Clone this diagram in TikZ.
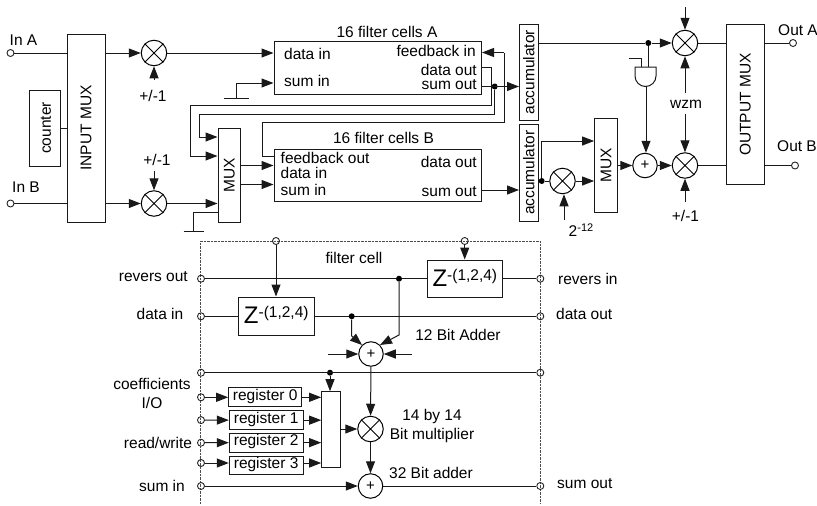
\documentclass[tikz,border=0pt]{standalone}
\usepackage{fontspec}
\setmainfont{Liberation Sans}
\usetikzlibrary{arrows.meta,calc}
\tikzset{
  wire/.style={line width=1pt,draw=black!90},
  arr/.style={wire,-{Triangle[length=12pt,width=9pt]}},
  box/.style={draw=black!90,line width=1pt,inner sep=0pt,fill=white},
  opc/.style={circle,draw=black,line width=1pt,inner sep=0pt,minimum size=24.5pt},
  mulc/.style={circle,draw=black,line width=1pt,inner sep=0pt,minimum size=25.5pt},
  term/.style={circle,draw=black!85,line width=0.9pt,inner sep=0pt,minimum size=7pt},
  dot/.style={circle,fill=black,inner sep=0pt,minimum size=6pt},
  lab/.style={inner sep=0pt,font=\fontsize{15.5}{17}\selectfont},
  rlab/.style={lab,rotate=90},
  llab/.style={lab,anchor=west},
  elab/.style={lab,anchor=east},
  zlab/.style={inner sep=0pt},
  border/.style={draw=black!70,line width=1pt,dash pattern=on 2.5pt off 1pt}
}
\newcommand{\mulnode}[2]{\node[mulc] (#1) at (#2) {};\draw[line width=1pt] (#1.45)--(#1.225) (#1.135)--(#1.315);}
\newcommand{\zt}{{\fontsize{24}{26}\selectfont Z}\raisebox{6pt}{\fontsize{15.5}{17}\selectfont -(1,2,4)}}
\begin{document}
\begin{tikzpicture}[x=1pt,y=-1pt]
\useasboundingbox (0,0) rectangle (817,506);
% top part: boxes
\node[box,minimum width=38pt,minimum height=188pt] (inmux) at (86,128) {};
\node[rlab] (inmuxt) at (86,128) {INPUT MUX};
\node[box,minimum width=30.5pt,minimum height=76pt] (counter) at (44.75,128) {};
\node[rlab] (countert) at (46,128) {counter};
\node[box,minimum width=22.5pt,minimum height=94pt] (mux1) at (229.25,175) {};
\node[rlab] (mux1t) at (229.25,175) {MUX};
\node[box,minimum width=207.5pt,minimum height=52.5pt] (cellsA) at (377.75,67.75) {};
\node[box,minimum width=207.5pt,minimum height=52.5pt] (cellsB) at (377.75,175.25) {};
\node[box,minimum width=18.5pt,minimum height=95.5pt] (acc1) at (528.75,72.25) {};
\node[rlab] (acc1t) at (528.75,72.25) {accumulator};
\node[box,minimum width=18.5pt,minimum height=96.5pt] (acc2) at (528.75,172.75) {};
\node[rlab] (acc2t) at (528.75,172.75) {accumulator};
\node[box,minimum width=22.8pt,minimum height=94pt] (mux2) at (606,165.5) {};
\node[rlab] (mux2t) at (606,165.5) {MUX};
\node[box,minimum width=37.5pt,minimum height=160pt] (outmux) at (745.25,104.5) {};
\node[rlab] (outmuxt) at (745.25,104.5) {OUTPUT MUX};
% operators
\mulnode{mIA}{154,53}
\mulnode{mIB}{154,203.5}
\mulnode{mOA}{685,43}
\mulnode{mOB}{685,165.5}
\mulnode{mScale}{562.5,181}
\node[opc] (addO) at (645,165.5) {\fontsize{15}{15}\selectfont +};
% terminals
\node[term] (tInA) at (10.5,53) {};
\node[term] (tInB) at (10.5,203.5) {};
\node[term] (tOutA) at (793,43) {};
\node[term] (tOutB) at (795,165.5) {};
% labels top
\node[llab] (lInA) at (9.5,40) {In A};
\node[llab] (lInB) at (12,187.5) {In B};
\node[llab] (lOutA) at (778,30) {Out A};
\node[llab] (lOutB) at (777,146.5) {Out B};
\node[lab] (lpm1) at (153,96) {+/-1};
\node[lab] (lpm2) at (157,160) {+/-1};
\node[lab] (lpm3) at (685.5,216) {+/-1};
\node[lab] (lwzm) at (686,104) {wzm};
\node[lab] (lpow) at (581,230) {2\raisebox{5.5pt}{\fontsize{11}{12}\selectfont -12}};
\node[lab] (ltA) at (387,32) {16 filter cells A};
\node[lab] (ltB) at (383.5,138) {16 filter cells B};
\node[llab] (a1) at (284,54) {data in};
\node[llab] (a2) at (284,81) {sum in};
\node[elab] (a3) at (476,51) {feedback in};
\node[elab] (a4) at (477,70) {data out};
\node[elab] (a5) at (477,85) {sum out};
\node[llab] (b1) at (280.5,157.5) {feedback out};
\node[llab] (b2) at (280.5,173) {data in};
\node[llab] (b3) at (280.5,190) {sum in};
\node[elab] (b4) at (477,162) {data out};
\node[elab] (b5) at (477,192) {sum out};
% coordinates
\coordinate (pmA) at (154,80);
\coordinate (pmB) at (154,171);
\coordinate (pmC) at (685,202);
\coordinate (topIn) at (685,7);
\coordinate (powIn) at (564,220);
\coordinate (wzmUp) at (685,93);
\coordinate (wzmDn) at (685,114);
\coordinate (gnd1) at (236.5,98);
\coordinate (gnd2) at (193.5,231.5);
\coordinate (dotAc) at (494.7,86.5);
\coordinate (gL) at (635,67);
\coordinate (gR) at (656,67);
% wires left
\draw[wire] (tInA)--(inmux.west |- tInA);
\draw[wire] (tInB)--(inmux.west |- tInB);
\draw[wire] (counter.east)--(inmux.west);
\draw[arr] (inmux.east |- mIA)--(mIA);
\draw[arr] (inmux.east |- mIB)--(mIB);
\draw[arr] (pmA)--(mIA);
\draw[arr] (pmB)--(mIB);
\draw[arr] (mIA)--(cellsA.west |- mIA);
\draw[arr] (mIB)--(mux1.west |- mIB);
% grounds
\draw[arr] (gnd1)--(236.5,83)--(cellsA.west |- 0,83);
\draw[wire] ($(gnd1)+(-12.5,0)$)--($(gnd1)+(12.5,0)$);
\draw[wire] (mux1.west |- 0,212)--(193.5,212)--(gnd2);
\draw[wire] ($(gnd2)+(-10,0)$)--($(gnd2)+(10,0)$);
% mux outputs
\draw[arr] (mux1.east |- 0,165.5)--(cellsB.west |- 0,165.5);
\draw[arr] (mux1.east |- 0,184.5)--(cellsB.west |- 0,184.5);
% feedbacks
\node[dot] (dA) at (dotAc) {};
\draw[arr] (cellsA.east |- dA)--(acc1.west |- dA);
\draw[arr] (dA)--(494.7,114.5)--(199.5,114.5)--(199.5,137)--(mux1.west |- 0,137);
\draw[arr] (cellsA.east |- 0,67.7)--(491,67.7)--(491,105.5)--(190,105.5)--(190,156)--(mux1.west |- 0,156);
\draw[wire] (cellsB.west |- 0,156)--(262.5,156)--(262.5,122.5)--(504,122.5)--(504,52.5);
\draw[arr] (504,52.5)--(cellsA.east |- 0,52.5);
\draw[arr] (cellsB.east |- 0,190)--(acc2.west |- 0,190);
% right side
\node[dot] (dOA) at (648.3,43) {};
\draw[wire] (acc1.east |- dOA)--(dOA);
\draw[arr] (dOA)--(mOA);
\draw[arr] (topIn)--(mOA);
\draw[arr] (wzmUp)--(mOA);
\draw[arr] (wzmDn)--(mOB);
\draw[arr] (pmC)--(mOB);
\draw[wire] (mOA)--(outmux.west |- mOA);
\draw[wire] (mOB)--(outmux.west |- mOB);
\draw[wire] (outmux.east |- tOutA)--(tOutA);
\draw[wire] (outmux.east |- tOutB)--(tOutB);
\node[dot] (dS) at (541.7,181) {};
\draw[wire] (acc2.east |- dS)--(dS);
\draw[wire] (dS)--(mScale);
\draw[arr] (dS)--(541.7,141)--(mux2.west |- 0,141);
\draw[arr] (mScale)--(mux2.west |- mScale);
\draw[arr] (powIn)--(mScale.south -| powIn);
\draw[arr] (mux2.east |- addO)--(addO);
\draw[arr] (addO)--(mOB);
% AND gate
\draw[wire] (gL)--(gR)--(656,76) arc[start angle=0,end angle=-180,radius=10.5pt]--cycle;
\draw[wire] (dOA)--(dOA |- gR);
\draw[wire] (629,58.5)--(641.7,58.5)--(641.7,67);
\draw[arr] (646,86.5)--(addO.north -| 646,0);
% filter cell
\draw[border] (200.7,504)--(200.7,241)--(540.3,241)--(540.3,504);
\node[box,minimum width=75.5pt,minimum height=38pt,fill=none] (z1) at (276.25,316) {};
\node[zlab] (z1t) at (276.25,315) {\zt};
\node[box,minimum width=75.7pt,minimum height=37.7pt,fill=none] (z2) at (464.85,278.85) {};
\node[zlab] (z2t) at (464.85,278) {\zt};
\node[opc] (add12) at (371,354) {\fontsize{15}{15}\selectfont +};
\mulnode{mul14}{370.5,429}
\node[opc] (add32) at (370.5,486) {\fontsize{15}{15}\selectfont +};
\node[box,minimum width=73pt,minimum height=18.7pt] (r0) at (265.2,397.3) {};
\node[lab] (r0t) at (265.2,396.5) {register 0};
\node[box,minimum width=73.7pt,minimum height=18.7pt] (r1) at (266.15,420.15) {};
\node[lab] (r1t) at (266.15,419.3) {register 1};
\node[box,minimum width=73.7pt,minimum height=18.7pt] (r2) at (266.15,442.65) {};
\node[lab] (r2t) at (266.15,441.8) {register 2};
\node[box,minimum width=73.7pt,minimum height=18.7pt] (r3) at (266.15,465.35) {};
\node[lab] (r3t) at (266.15,464.5) {register 3};
\node[box,minimum width=18.3pt,minimum height=75.3pt] (cmux) at (330.85,429.35) {};
% filter cell terminals
\node[term] (tTopA) at (276,241) {};
\node[term] (tTopB) at (464.7,241) {};
\node[term] (tRevL) at (201,278.7) {};
\node[term] (tRevR) at (540.3,278.7) {};
\node[term] (tDatL) at (201,316.3) {};
\node[term] (tDatR) at (540.3,316.3) {};
\node[term] (tBusL) at (201,372.7) {};
\node[term] (tBusR) at (540.3,372.7) {};
\node[term] (tC0) at (201,397.3) {};
\node[term] (tC1) at (201,420.1) {};
\node[term] (tC2) at (201,442.7) {};
\node[term] (tC3) at (201,463) {};
\node[term] (tSumL) at (201,486) {};
\node[term] (tSumR) at (540.3,486) {};
% filter cell labels
\node[lab] (fc) at (354,258) {filter cell};
\node[elab] (l1) at (188,277) {revers out};
\node[lab] (l2) at (160,314) {data in};
\node[lab] (l3) at (152,384) {coefficients};
\node[lab] (l4) at (152,403) {I/O};
\node[lab] (l5) at (158,443) {read/write};
\node[lab] (l6) at (162,486) {sum in};
\node[llab] (l7) at (558,278.5) {revers in};
\node[llab] (l8) at (556,314) {data out};
\node[llab] (l9) at (557,484) {sum out};
\node[lab] (l10) at (458,335) {12 Bit Adder};
\node[lab] (l11) at (432,416) {14 by 14};
\node[lab] (l12) at (432,435) {Bit multiplier};
\node[lab] (l13) at (431,473) {32 Bit adder};
% filter cell wires
\draw[arr] (tTopA)--(z1.north -| tTopA);
\draw[arr] (tTopB)--(z2.north -| tTopB);
\draw[wire] (tRevL)--(tRevR -| z2.west);
\draw[wire] (z2.east |- tRevR)--(tRevR);
\draw[wire] (tDatL)--(z1.west |- tDatL);
\draw[wire] (z1.east |- tDatR)--(tDatR);
\node[dot] (d1) at (351.7,316.3) {};
\node[dot] (d2) at (399,278.7) {};
\node[dot] (d3) at (330,372.7) {};
\draw[arr] (d1)--(351.7,336)--(add12.135);
\draw[arr] (d2)--(399,335)--(add12.45);
\coordinate (inL) at (328,354);
\coordinate (inR) at (412,354);
\draw[arr] (inL)--(add12);
\draw[arr] (inR)--(add12);
\draw[wire,line width=1.3pt] (tBusL)--(tBusR);
\draw[arr] (d3)--(cmux.north -| d3);
\draw[arr] (add12)--(mul14);
\draw[arr] (tC0)--(r0);
\draw[arr] (tC1)--(r1);
\draw[arr] (tC2)--(r2);
\draw[arr] (tC3)--(r3.west |- tC3);
\draw[arr] (r0)--(cmux.west |- r0);
\draw[arr] (r1)--(cmux.west |- r1);
\draw[arr] (r2)--(cmux.west |- r2);
\draw[arr] (r3.east |- tC3)--(cmux.west |- tC3);
\draw[arr] (cmux.east |- mul14)--(mul14);
\draw[arr] (mul14)--(add32);
\draw[arr] (tSumL)--(add32);
\draw[wire] (add32)--(tSumR);
\end{tikzpicture}
\end{document}
